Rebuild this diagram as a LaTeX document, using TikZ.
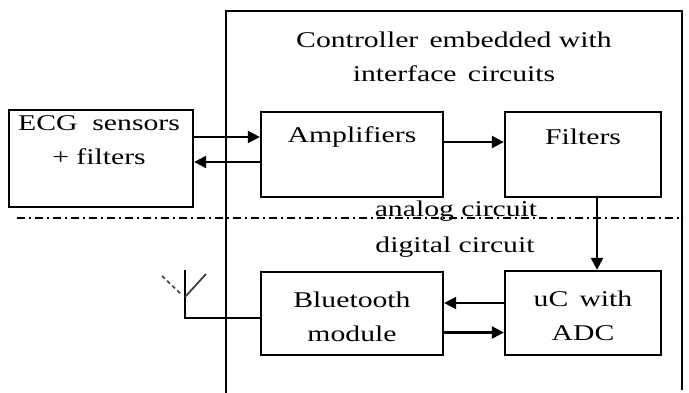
\documentclass[tikz,border=0pt]{standalone}
\usepackage{fontspec}
\setmainfont{Liberation Serif}[FakeStretch=1.32]
\usetikzlibrary{arrows.meta, positioning, calc}

\begin{document}
\begin{tikzpicture}[x=1pt, y=-1pt,
    box/.style={draw, line width=2.3pt, inner sep=0pt},
    arrow/.style={-{Triangle[length=12pt, width=12pt]}, line width=2.3pt},
    txt/.style={font=\fontsize{22.5}{34}\selectfont, align=center, inner sep=0pt}
  ]
  \useasboundingbox (0,0) rectangle (689,393);

  % controller frame, open at the bottom
  \draw[line width=1.6pt] (226,393) -- (226,11) -- (682,11) -- (682,390);
  \node[txt] (ctrl) at (454,57) {Controller\, embedded with\\interface\, circuits};

  % analog part
  \node[box, minimum width=184, minimum height=97] (ecg) at (101,158.5) {};
  \node[txt] at (99,140) {ECG\,\, sensors\\+ filters};
  \node[box, minimum width=182, minimum height=85] (amp) at (352,154.5) {};
  \node[txt] at (352,137) {Amplifiers};
  \node[box, minimum width=156, minimum height=85] (filt) at (583,154.5) {};
  \node[txt] at (583,137) {Filters};

  % digital part
  \node[box, minimum width=182, minimum height=83] (bt) at (352,313.5) {};
  \node[txt] at (352,317) {Bluetooth\\module};
  \node[box, minimum width=156, minimum height=84] (uc) at (583,313) {};
  \node[txt] at (583,316) {uC\, with\\ADC};

  % boundary
  \draw[line width=1.6pt, dash pattern=on 8pt off 4pt on 2pt off 4pt] (17,218) -- (683,218);
  \node[txt] (analog) at (456,211) {analog circuit};
  \node[txt] (digital) at (455,247) {digital circuit};

  % connections
  \draw[arrow] ([yshift=21.5]ecg.east) -- ([yshift=21.5]ecg.east -| amp.west);
  \draw[arrow] ([yshift=-7.5]amp.west) -- ([yshift=-7.5]amp.west -| ecg.east);
  \draw[arrow] ([yshift=12.5]amp.east) -- ([yshift=12.5]amp.east -| filt.west);
  \draw[arrow] ([xshift=14]filt.south) -- ([xshift=14]filt.south |- uc.north);
  \draw[arrow] ([yshift=10]uc.west) -- ([yshift=10]uc.west -| bt.east);
  \draw[arrow] ([yshift=-19]bt.east) -- ([yshift=-19]bt.east -| uc.west);

  % antenna
  \coordinate (antfoot) at (185,318);
  \coordinate (anttop) at (185,270);
  \draw[line width=2.3pt] ([yshift=-4.5]bt.west) -- (antfoot) -- (anttop);
  \draw[line width=1.8pt, black!75] (185,297) -- (206,274);
  \draw[line width=1.8pt, black!70, dash pattern=on 4pt off 3pt] (162,276) -- (182,295);
\end{tikzpicture}
\end{document}
